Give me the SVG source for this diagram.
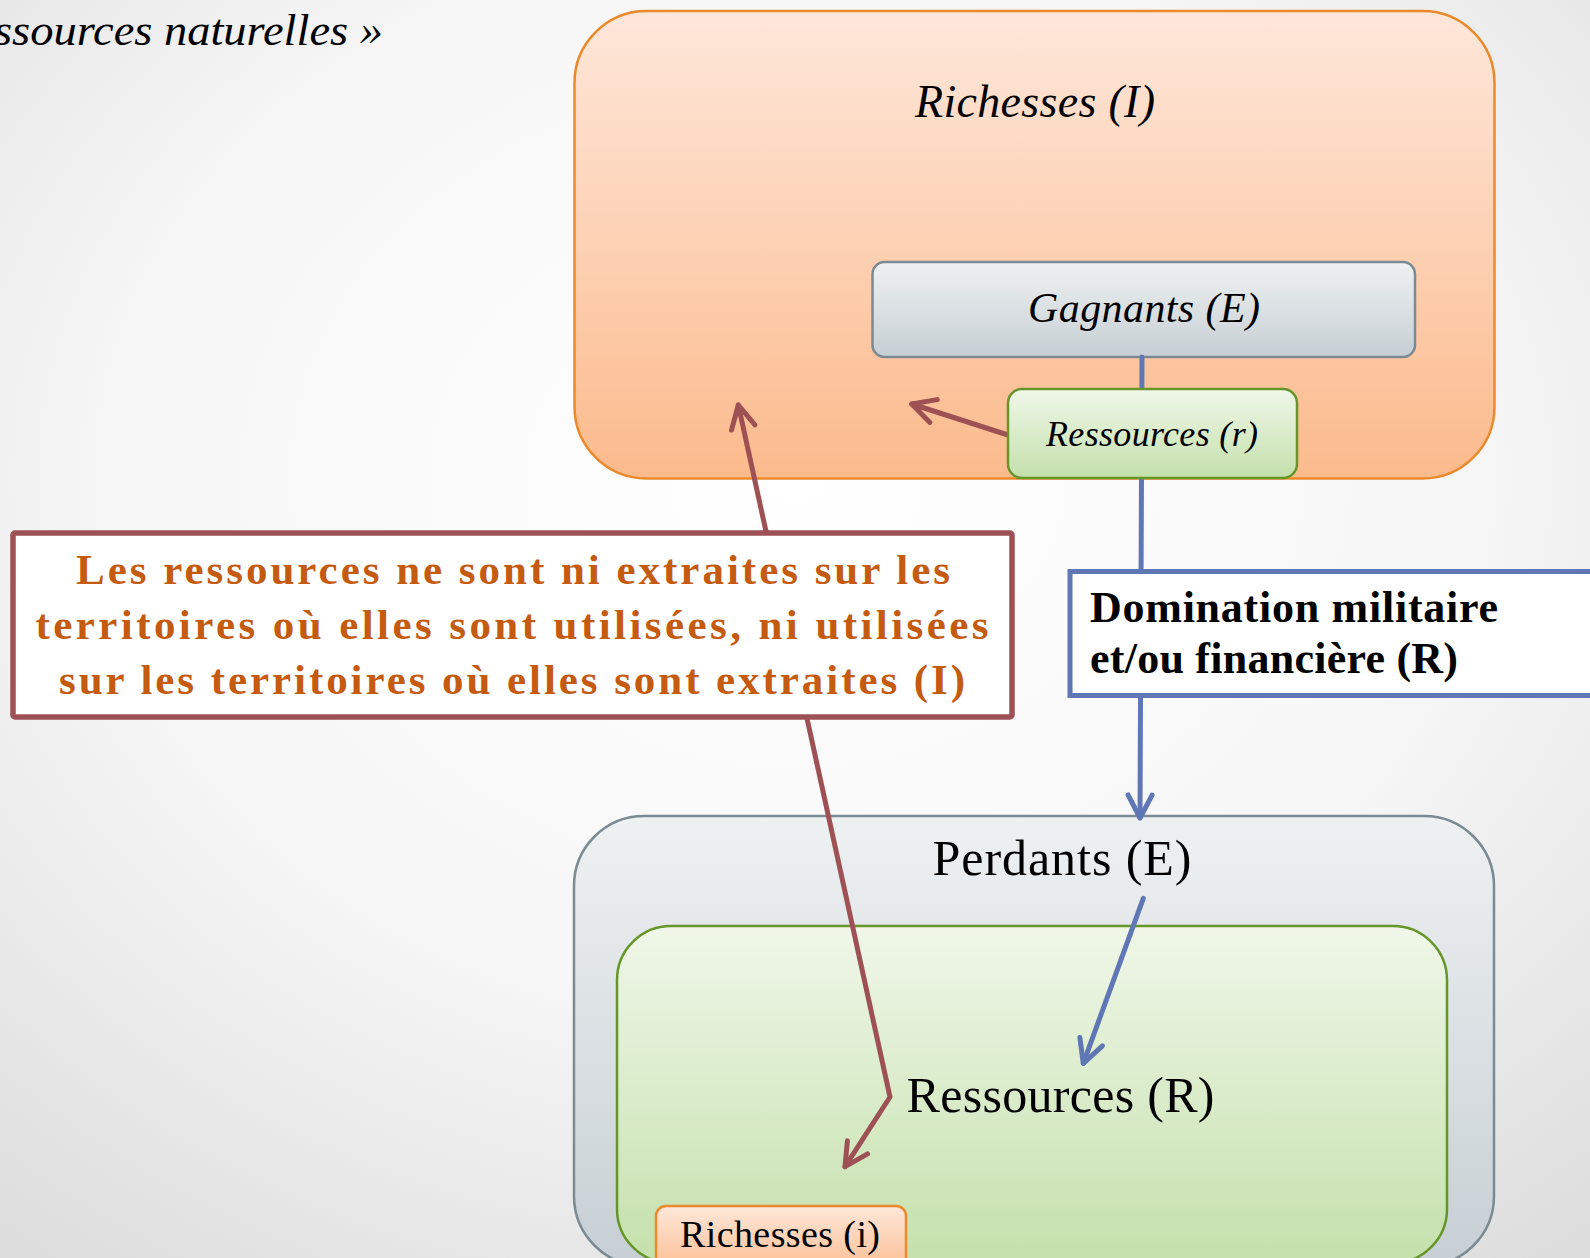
<svg xmlns="http://www.w3.org/2000/svg" width="1590" height="1258" viewBox="0 0 1590 1258">
<defs>
<radialGradient id="bg" cx="0.5" cy="0.38" r="0.78">
<stop offset="0" stop-color="#FFFFFF"/>
<stop offset="0.55" stop-color="#F6F6F6"/>
<stop offset="1" stop-color="#DDDDDD"/>
</radialGradient>
<linearGradient id="gOrange" x1="0" y1="0" x2="0" y2="1">
<stop offset="0" stop-color="#FEE7DA"/>
<stop offset="1" stop-color="#FBBA8C"/>
</linearGradient>
<linearGradient id="gGray" x1="0" y1="0" x2="0" y2="1">
<stop offset="0" stop-color="#EEF1F2"/>
<stop offset="1" stop-color="#C7CFD4"/>
</linearGradient>
<linearGradient id="gGreen" x1="0" y1="0" x2="0" y2="1">
<stop offset="0" stop-color="#F0F7E9"/>
<stop offset="1" stop-color="#C4E0AB"/>
</linearGradient>
<marker id="aBrown" markerUnits="userSpaceOnUse" markerWidth="40" markerHeight="40" viewBox="-30 -20 40 40" refX="0" refY="0" orient="auto-start-reverse" overflow="visible">
<path d="M-23,-12 L0,0 L-23,12" fill="none" stroke="#9D5155" stroke-width="5" stroke-linecap="round" stroke-linejoin="round"/>
</marker>
<marker id="aBlue" markerUnits="userSpaceOnUse" markerWidth="40" markerHeight="40" viewBox="-30 -20 40 40" refX="0" refY="0" orient="auto" overflow="visible">
<path d="M-23,-12 L0,0 L-23,12" fill="none" stroke="#6077B6" stroke-width="5" stroke-linecap="round" stroke-linejoin="round"/>
</marker>
</defs>
<style>
.serif{font-family:"Liberation Serif","Times New Roman",serif;fill:#000}
.it{font-style:italic}
.orange{fill:url(#gOrange);stroke:#EB8A2C;stroke-width:2.5}
.gray{fill:url(#gGray);stroke:#7B8A93;stroke-width:2.5}
.green{fill:url(#gGreen);stroke:#66962A;stroke-width:2.5}
.brown{fill:none;stroke:#9D5155;stroke-width:5;stroke-linecap:round;stroke-linejoin:round}
.blue{fill:none;stroke:#6077B6;stroke-width:5;stroke-linecap:round;stroke-linejoin:round}
.callout{font-family:"Liberation Serif","Times New Roman",serif;font-weight:bold;font-size:43px;fill:#C55A11}
.dom{font-family:"Liberation Serif","Times New Roman",serif;font-weight:bold;font-size:44px;fill:#000}
</style>
<rect x="0" y="0" width="1590" height="1258" fill="url(#bg)"/>
<g id="title">
<text class="serif it" x="-6" y="45" font-size="45" textLength="389" lengthAdjust="spacingAndGlyphs">ssources naturelles »</text>
</g>
<g id="richesses-I">
<rect class="orange" x="574.5" y="11" width="920" height="467.5" rx="72" ry="72"/>
<text class="serif it" x="1035" y="117" font-size="46" text-anchor="middle" textLength="240">Richesses (I)</text>
</g>
<g id="gagnants">
<rect class="gray" x="872.5" y="262" width="542.5" height="95" rx="12" ry="12"/>
<text class="serif it" x="1144" y="322" font-size="42" text-anchor="middle" textLength="232">Gagnants (E)</text>
</g>
<g id="perdants">
<rect class="gray" x="574" y="816" width="920" height="450" rx="70" ry="70"/>
<text class="serif" x="1062" y="875" font-size="50" text-anchor="middle" textLength="259">Perdants (E)</text>
</g>
<g id="ressources-R">
<rect class="green" x="617" y="926" width="830" height="337" rx="54" ry="54"/>
<text class="serif" x="1060.5" y="1112" font-size="50" text-anchor="middle" textLength="308">Ressources (R)</text>
</g>
<g id="richesses-i">
<rect class="orange" x="656" y="1206" width="250" height="70" rx="10" ry="10"/>
<text class="serif" x="780" y="1247" font-size="38" text-anchor="middle" textLength="200">Richesses (i)</text>
</g>
<g id="connectors">
<path class="blue" d="M1142,357 L1140,818" marker-end="url(#aBlue)"/>
<path class="blue" d="M1143.3,898.3 L1083.3,1063.3" marker-end="url(#aBlue)"/>
<path class="brown" d="M738.3,405 L890,1097 L845,1166.7" marker-start="url(#aBrown)" marker-end="url(#aBrown)"/>
<path class="brown" d="M1008,435 L911.7,404" marker-end="url(#aBrown)"/>
</g>
<g id="ressources-r">
<rect class="green" x="1008" y="389" width="289" height="89" rx="14" ry="14"/>
<text class="serif it" x="1152" y="446" font-size="36" text-anchor="middle" textLength="212">Ressources (r)</text>
</g>
<g id="callout">
<rect x="13" y="533" width="999" height="184" rx="2" fill="#FFFFFF" stroke="#9D5155" stroke-width="5.5"/>
<text class="callout" x="513" y="584" text-anchor="middle" textLength="874">Les ressources ne sont ni extraites sur les</text>
<text class="callout" x="512" y="639" text-anchor="middle" textLength="953">territoires où elles sont utilisées, ni utilisées</text>
<text class="callout" x="512" y="694" text-anchor="middle" textLength="906">sur les territoires où elles sont extraites (I)</text>
</g>
<g id="domination">
<rect x="1070" y="571.5" width="540" height="124" fill="#FFFFFF" stroke="#6077B6" stroke-width="5"/>
<text class="dom" x="1090" y="622" textLength="408">Domination militaire</text>
<text class="dom" x="1090" y="673" textLength="368">et/ou financière (R)</text>
</g>
</svg>
